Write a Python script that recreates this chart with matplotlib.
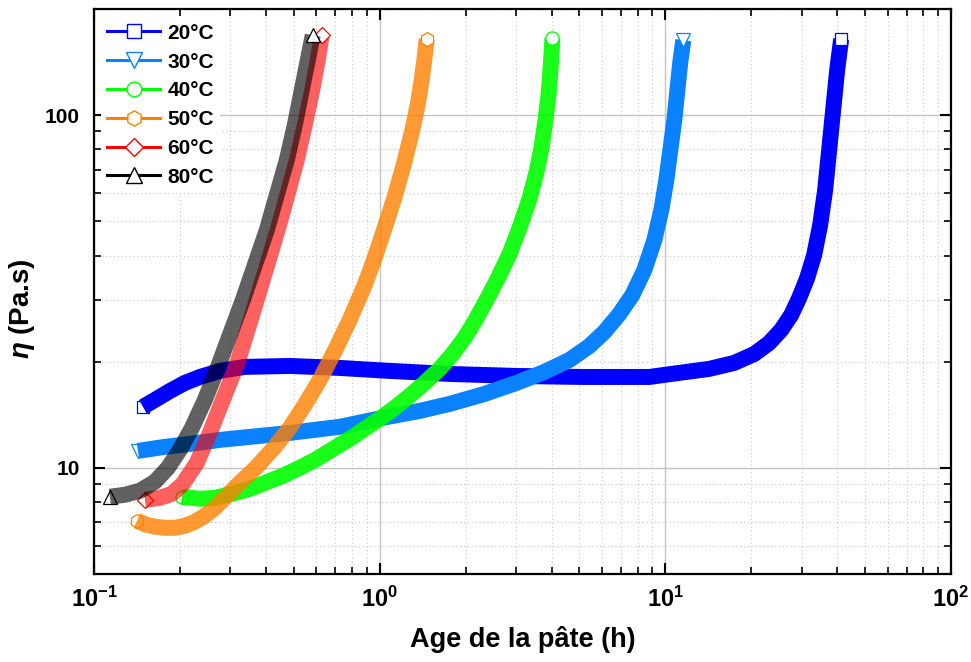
import numpy as np
import matplotlib.pyplot as plt
from matplotlib.lines import Line2D
from matplotlib.ticker import LogLocator, NullFormatter

plt.rcParams['font.family'] = ['Liberation Sans', 'DejaVu Sans']
plt.rcParams['font.weight'] = 'bold'
plt.rcParams['mathtext.fontset'] = 'custom'
plt.rcParams['mathtext.rm'] = 'Liberation Sans:bold'
plt.rcParams['mathtext.it'] = 'Liberation Sans:italic:bold'
plt.rcParams['mathtext.bf'] = 'Liberation Sans:bold'

# viscosity (Pa.s) vs paste age (h) for each curing temperature
t20 = [0.1484, 0.1634, 0.1844, 0.2080, 0.2348, 0.2759, 0.3373, 0.4845, 0.7247, 1.084,
       1.757, 3.013, 5.127, 8.793, 11.19, 14.25, 17.43, 20.48, 23.10, 25.44,
       27.58, 29.41, 31.37, 33.19, 34.83, 36.26, 37.45, 38.68, 39.94, 41.25]
eta20 = [14.89, 15.58, 16.52, 17.41, 18.10, 18.83, 19.33, 19.45, 19.20, 18.83,
         18.46, 18.22, 18.10, 18.10, 18.59, 19.08, 19.84, 21.03, 22.60, 24.60,
         27.13, 30.31, 34.53, 40.13, 48.80, 61.33, 79.60, 103.3, 134.1, 164.2]

t30 = [0.1425, 0.1771, 0.2166, 0.2759, 0.3511, 0.4845, 0.7247, 1.024, 1.380, 1.757,
       2.329, 3.013, 3.776, 4.617, 5.425, 6.119, 6.906, 7.665, 8.444, 9.154,
       9.683, 10.08, 10.41, 10.75, 11.02, 11.28, 11.56]
eta30 = [11.17, 11.47, 11.69, 12.00, 12.24, 12.56, 13.07, 13.86, 14.50, 15.18,
         16.20, 17.41, 18.71, 20.23, 22.16, 24.28, 27.31, 30.91, 36.39, 44.25,
         53.82, 65.46, 79.60, 96.78, 117.7, 141.3, 163.2]

t40 = [0.2030, 0.2348, 0.2649, 0.3038, 0.3511, 0.4059, 0.4655, 0.5250, 0.6021, 0.6962,
       0.7854, 0.8862, 1.0, 1.128, 1.273, 1.436, 1.621, 1.800, 1.982, 2.166,
       2.366, 2.586, 2.848, 3.086, 3.345, 3.540, 3.685, 3.806, 3.899, 3.963, 4.026]
eta40 = [8.28, 8.17, 8.22, 8.44, 8.72, 9.13, 9.55, 10.0, 10.60, 11.39,
         12.08, 12.90, 13.77, 14.79, 16.00, 17.41, 19.08, 21.03, 23.35, 26.26,
         29.92, 34.31, 40.39, 47.86, 57.81, 68.97, 80.65, 96.78, 114.0, 134.1, 165.2]

t50 = [0.1414, 0.1520, 0.1634, 0.1771, 0.1920, 0.2080, 0.2254, 0.2444, 0.2649, 0.2871,
       0.3240, 0.3714, 0.4295, 0.4845, 0.5467, 0.6169, 0.6962, 0.7854, 0.8862, 0.9605,
       1.041, 1.128, 1.213, 1.294, 1.358, 1.403, 1.436, 1.460]
eta50 = [7.08, 6.90, 6.81, 6.76, 6.76, 6.85, 7.03, 7.31, 7.70, 8.22,
         9.07, 10.07, 11.47, 12.98, 15.08, 17.75, 21.45, 26.26, 32.99, 39.35,
         47.86, 58.56, 72.18, 88.92, 106.7, 125.7, 145.0, 164.2]

t60 = [0.1508, 0.1701, 0.1874, 0.2048, 0.2291, 0.2544, 0.2825, 0.3162, 0.3597, 0.3962,
       0.4363, 0.4729, 0.5127, 0.5467, 0.5832, 0.6070, 0.6268]
eta60 = [8.12, 8.22, 8.44, 9.01, 10.33, 12.56, 15.58, 19.58, 27.49, 35.68,
         46.33, 58.56, 74.56, 93.69, 120.0, 143.2, 168.5]

t80 = [0.1137, 0.1283, 0.1448, 0.1634, 0.1814, 0.1998, 0.2202, 0.2444, 0.2692, 0.2989,
       0.3319, 0.3656, 0.4026, 0.4363, 0.4729, 0.5045, 0.5337, 0.5602, 0.5832]
eta80 = [8.28, 8.39, 8.61, 9.13, 10.0, 11.25, 12.98, 15.58, 18.95, 23.81,
         29.92, 37.59, 47.23, 59.34, 74.56, 93.69, 117.7, 143.2, 168.5]

labels = ['20°C', '30°C', '40°C', '50°C', '60°C', '80°C']
colors = ['#0000FF', '#0A82FF', '#00FF00', '#FF8000', '#FF0000', '#000000']
markers = ['s', 'v', 'o', 'h', 'D', '^']
msizes = [9, 10, 9.5, 10, 8.5, 10]
band_alpha = [1.0, 1.0, 0.9, 0.8, 0.62, 0.62]
data = [(t20, eta20), (t30, eta30), (t40, eta40), (t50, eta50), (t60, eta60), (t80, eta80)]

fig = plt.figure(figsize=(9.71, 6.62), dpi=100)
ax = fig.add_axes([94 / 971, 1 - 574 / 662, (951 - 94) / 971, (574 - 9) / 662])
ax.set_xscale('log')
ax.set_yscale('log')

handles = []
for (t, eta), lab, c, m, ms, a in zip(data, labels, colors, markers, msizes, band_alpha):
    t = np.array(t)
    eta = np.array(eta)
    # densely packed open symbols read as a thick band
    ax.plot(t, eta, color=c, lw=11.5, alpha=a, solid_capstyle='butt',
            solid_joinstyle='round', zorder=3)
    ax.plot(t[:1], eta[:1], ls='none', marker=m, ms=ms, mfc='none', mec=c,
            mew=0.9, zorder=3)
    ax.plot(t[-1:], eta[-1:], ls='none', marker=m, ms=ms, mfc='white', mec=c,
            mew=0.9, zorder=3)
    handles.append(Line2D([], [], color=c, lw=2.2, marker=m, ms=ms + 1,
                          mfc='white', mec=c, mew=1.0, label=lab))

ax.set_xlim(0.1, 100)
ax.set_ylim(5, 200)

ax.set_xticks([0.1, 1, 10, 100],
              labels=[r'$\mathdefault{10^{-1}}$', r'$\mathdefault{10^{0}}$',
                      r'$\mathdefault{10^{1}}$', r'$\mathdefault{10^{2}}$'],
              fontsize=17, fontweight='bold')
ax.set_yticks([10, 100], labels=['10', '100'], fontsize=15, fontweight='bold')
ax.xaxis.set_minor_locator(LogLocator(base=10, subs=np.arange(2, 10), numticks=20))
ax.yaxis.set_minor_locator(LogLocator(base=10, subs=np.arange(2, 10), numticks=20))
ax.xaxis.set_minor_formatter(NullFormatter())
ax.yaxis.set_minor_formatter(NullFormatter())

ax.tick_params(which='both', direction='in', top=True, right=True)
ax.tick_params(which='major', length=8, width=1.5)
ax.tick_params(which='minor', length=5, width=1.2)
ax.tick_params(axis='x', which='major', pad=9)
ax.tick_params(axis='y', which='major', pad=10)
for sp in ax.spines.values():
    sp.set_linewidth(1.6)

ax.set_axisbelow(True)
ax.grid(which='major', color='#c4c4c4', lw=1.0, ls='-')
ax.grid(which='minor', color='#c8c8c8', lw=0.8, ls=(0, (1, 2.5)))

ax.set_xlabel('Age de la pâte (h)', fontsize=19.5, fontweight='bold')
ax.xaxis.set_label_coords(0.5, -0.092)
ax.set_ylabel(r'$\eta$ (Pa.s)', fontsize=20, fontweight='bold')
ax.yaxis.set_label_coords(-0.067, 0.47)

leg = ax.legend(handles=handles, loc='upper left', bbox_to_anchor=(0.008, 0.985),
                borderaxespad=0, frameon=True, facecolor='white', edgecolor='none',
                framealpha=1, fancybox=False, prop={'weight': 'bold', 'size': 15},
                handlelength=2.55, handletextpad=0.35, labelspacing=0.47, borderpad=0.3)
leg.set_zorder(5)

fig.savefig('out.png', dpi=100)
